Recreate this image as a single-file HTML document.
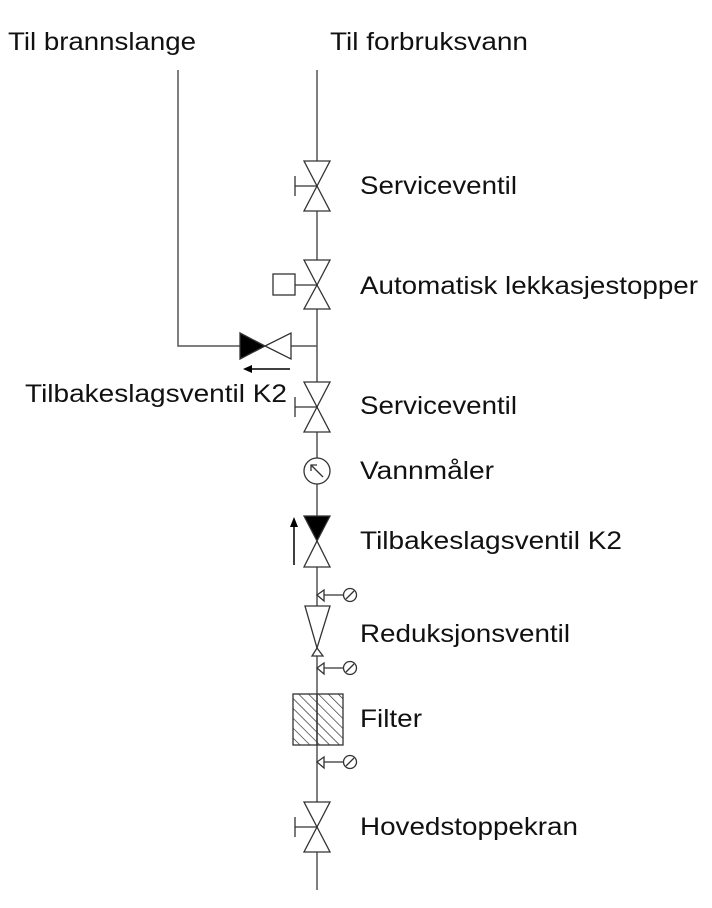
<!DOCTYPE html>
<html><head><meta charset="utf-8"><style>
html,body{margin:0;padding:0;background:#fff;}
svg{display:block;}
text{font-family:"Liberation Sans",Arial,sans-serif;font-size:25px;fill:#111;}
</style></head><body>
<svg width="712" height="908" viewBox="0 0 712 908" xmlns="http://www.w3.org/2000/svg">
<defs>
<pattern id="h" patternUnits="userSpaceOnUse" width="7" height="7" patternTransform="rotate(-45)">
<line x1="0" y1="0" x2="0" y2="7" stroke="#222" stroke-width="1.3"/>
</pattern>
</defs>
<g stroke="#555" stroke-width="1.5" fill="none">
<line x1="317" y1="70" x2="317" y2="890"/>
<polyline points="178,70 178,346 240,346"/>
<line x1="291" y1="346" x2="317" y2="346"/>
</g>
<g stroke="#333" stroke-width="1.3" fill="#fff">
<polygon points="304,161 330,161 317,186"/><polygon points="304,211 330,211 317,186"/>
<line x1="295" y1="186" x2="317" y2="186"/><line x1="295" y1="176" x2="295" y2="196"/>
<polygon points="304,260 330,260 317,285"/><polygon points="304,309 330,309 317,285"/>
<line x1="295" y1="285" x2="317" y2="285"/><rect x="273" y="274" width="22" height="21"/>
<polygon points="240,333 240,359 265,346" fill="#000"/>
<polygon points="291,333 291,359 265,346"/>
<polygon points="304,382 330,382 317,407"/><polygon points="304,432 330,432 317,407"/>
<line x1="295" y1="407" x2="317" y2="407"/><line x1="295" y1="397" x2="295" y2="417"/>
<circle cx="317" cy="471" r="13"/>
<line x1="311" y1="465" x2="323" y2="477"/>
<polyline points="311,471 311,465 317,465" fill="none"/>
<polygon points="304,516 330,516 317,541" fill="#000"/>
<polygon points="304,567 330,567 317,541"/>
<g id="tap">
<polygon points="317,595 324,590 324,601"/>
<line x1="324" y1="595" x2="343" y2="595"/>
<circle cx="350" cy="595" r="6.5"/>
<line x1="346" y1="599" x2="354" y2="591"/>
</g>
<use href="#tap" y="73"/>
<use href="#tap" y="167"/>
<polygon points="305,606 330,606 317,648"/>
<polygon points="312,656 323,656 317,648"/>
<rect x="293" y="694" width="50" height="51" fill="url(#h)"/>
<line x1="317" y1="694" x2="317" y2="745"/>
<polygon points="304,802 330,802 317,827"/><polygon points="304,852 330,852 317,827"/>
<line x1="295" y1="827" x2="317" y2="827"/><line x1="295" y1="817" x2="295" y2="837"/>
</g>
<g stroke="#000" stroke-width="1.5" fill="#000">
<line x1="250" y1="369" x2="290" y2="369"/><polygon points="243,369 252,365 252,373" stroke="none"/>
<line x1="294" y1="565" x2="294" y2="525"/><polygon points="294,517 290,527 298,527" stroke="none"/>
</g>
<text x="8" y="50" textLength="188" lengthAdjust="spacingAndGlyphs">Til brannslange</text>
<text x="330" y="50" textLength="198" lengthAdjust="spacingAndGlyphs">Til forbruksvann</text>
<text x="360" y="194" textLength="157" lengthAdjust="spacingAndGlyphs">Serviceventil</text>
<text x="360" y="294" textLength="338" lengthAdjust="spacingAndGlyphs">Automatisk lekkasjestopper</text>
<text x="25" y="402" textLength="262" lengthAdjust="spacingAndGlyphs">Tilbakeslagsventil K2</text>
<text x="360" y="414" textLength="157" lengthAdjust="spacingAndGlyphs">Serviceventil</text>
<text x="360" y="479" textLength="134" lengthAdjust="spacingAndGlyphs">Vannmåler</text>
<text x="360" y="549" textLength="262" lengthAdjust="spacingAndGlyphs">Tilbakeslagsventil K2</text>
<text x="360" y="642" textLength="210" lengthAdjust="spacingAndGlyphs">Reduksjonsventil</text>
<text x="360" y="727" textLength="62" lengthAdjust="spacingAndGlyphs">Filter</text>
<text x="360" y="835" textLength="218" lengthAdjust="spacingAndGlyphs">Hovedstoppekran</text>
</svg>
</body></html>
